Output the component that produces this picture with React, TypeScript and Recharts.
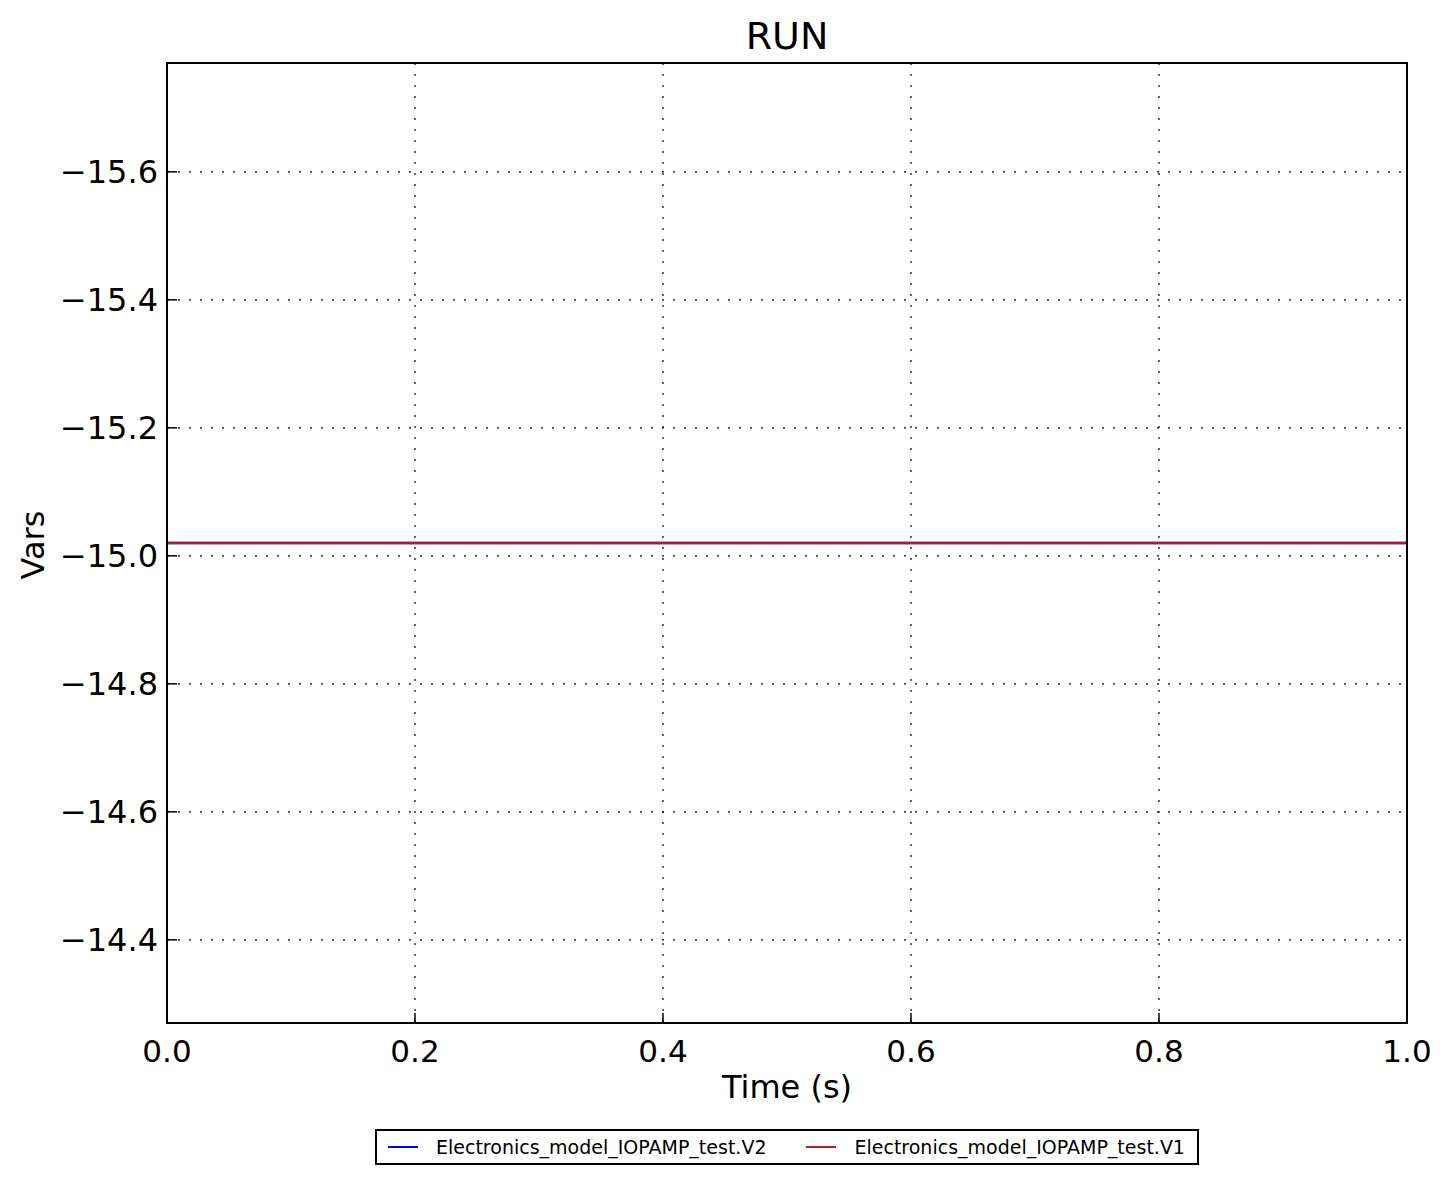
import { LineChart, Line, XAxis, YAxis, CartesianGrid } from 'recharts';

const times = [0, 1];
const v2Values = [-15.02, -15.02];
const v1Values = [-15.02, -15.02];
const xTicks = [0, 0.2, 0.4, 0.6, 0.8, 1.0];
const yTicks = [-15.6, -15.4, -15.2, -15.0, -14.8, -14.6, -14.4];
const yDomain = [-15.77, -14.27];

const SERIES = [
  { key: 'v2', name: 'Electronics_model_IOPAMP_test.V2', color: '#0000ff', opacity: 1 },
  { key: 'v1', name: 'Electronics_model_IOPAMP_test.V1', color: '#b22222', opacity: 0.9 },
];

const FONT = '"DejaVu Sans", sans-serif';
const PLOT = { left: 167, top: 63, right: 1407, bottom: 1023 };
const TICK_LEN = 10;

const data = times.map((t, i) => ({ t, v2: v2Values[i], v1: v1Values[i] }));

const fmt = (v: number) => v.toFixed(1).replace('-', '\u2212');

function LeftTick({ y, payload }: any) {
  return (
    <g>
      <line x1={PLOT.left} x2={PLOT.left + TICK_LEN} y1={y} y2={y} stroke="#000" strokeWidth={1.5} />
      <text x={PLOT.left - 9} y={y} dy={11} textAnchor="end" fontSize={32} fontFamily={FONT} fill="#000">
        {fmt(payload.value)}
      </text>
    </g>
  );
}

function RightTick({ y }: any) {
  return <line x1={PLOT.right} x2={PLOT.right - TICK_LEN} y1={y} y2={y} stroke="#000" strokeWidth={1.5} />;
}

function BottomTick({ x, payload }: any) {
  return (
    <g>
      <line x1={x} x2={x} y1={PLOT.bottom} y2={PLOT.bottom - TICK_LEN} stroke="#000" strokeWidth={1.5} />
      <text x={x} y={PLOT.bottom + 39} textAnchor="middle" fontSize={31} fontFamily={FONT} fill="#000">
        {payload.value.toFixed(1)}
      </text>
    </g>
  );
}

function TopTick({ x }: any) {
  return <line x1={x} x2={x} y1={PLOT.top} y2={PLOT.top + TICK_LEN} stroke="#000" strokeWidth={1.5} />;
}

export default function App() {
  return (
    <div style={{ position: 'relative', width: 1450, height: 1184, background: '#fff', fontFamily: FONT }}>
      <style>{'body{margin:0}'}</style>
      <LineChart
        width={1450}
        height={1184}
        data={data}
        margin={{ top: PLOT.top, right: 1450 - PLOT.right, left: 0, bottom: 0 }}
      >
        <CartesianGrid stroke="#000" strokeWidth={1.2} strokeDasharray="2 9" />
        <XAxis
          dataKey="t"
          type="number"
          domain={[0, 1]}
          ticks={xTicks}
          height={1184 - PLOT.bottom}
          axisLine={false}
          tickLine={false}
          tick={<BottomTick />}
          interval={0}
        />
        <XAxis
          xAxisId="top"
          dataKey="t"
          type="number"
          orientation="top"
          domain={[0, 1]}
          ticks={xTicks}
          height={0}
          axisLine={false}
          tickLine={false}
          tick={<TopTick />}
          interval={0}
        />
        <YAxis
          type="number"
          domain={yDomain}
          ticks={yTicks}
          reversed
          allowDataOverflow
          width={PLOT.left}
          axisLine={false}
          tickLine={false}
          tick={<LeftTick />}
          interval={0}
        />
        <YAxis
          yAxisId="right"
          type="number"
          orientation="right"
          domain={yDomain}
          ticks={yTicks}
          reversed
          allowDataOverflow
          width={0}
          axisLine={false}
          tickLine={false}
          tick={<RightTick />}
          interval={0}
        />
        {SERIES.map((s) => (
          <Line
            key={s.key}
            dataKey={s.key}
            name={s.name}
            stroke={s.color}
            strokeWidth={2.5}
            strokeOpacity={s.opacity}
            dot={false}
            isAnimationActive={false}
          />
        ))}
      </LineChart>

      {/* axes frame */}
      <div
        style={{
          position: 'absolute',
          left: PLOT.left - 1,
          top: PLOT.top - 1,
          width: PLOT.right - PLOT.left + 2,
          height: PLOT.bottom - PLOT.top + 2,
          border: '2px solid #000',
          boxSizing: 'border-box',
          pointerEvents: 'none',
        }}
      />

      <div style={{ position: 'absolute', left: 0, width: 1450, top: 14, textAlign: 'center', fontSize: 38, paddingLeft: 124, boxSizing: 'border-box' }}>
        RUN
      </div>
      <div style={{ position: 'absolute', left: PLOT.left, width: PLOT.right - PLOT.left, top: 1068, textAlign: 'center', fontSize: 32 }}>
        Time (s)
      </div>
      <div
        style={{
          position: 'absolute',
          left: 33,
          top: 545,
          fontSize: 32,
          transform: 'translate(-50%, -50%) rotate(-90deg)',
          whiteSpace: 'nowrap',
        }}
      >
        Vars
      </div>

      <div
        style={{
          position: 'absolute',
          left: 375,
          top: 1129,
          width: 824,
          height: 36,
          border: '2px solid #000',
          boxSizing: 'border-box',
          display: 'flex',
          alignItems: 'center',
          fontSize: 19,
        }}
      >
        {SERIES.map((s, i) => (
          <div key={s.key} style={{ display: 'flex', alignItems: 'center', marginLeft: i === 0 ? 11 : 40 }}>
            <span style={{ display: 'inline-block', width: 30, height: 2, background: s.color, marginRight: 18 }} />
            <span style={{ whiteSpace: 'nowrap' }}>{s.name}</span>
          </div>
        ))}
      </div>
    </div>
  );
}
